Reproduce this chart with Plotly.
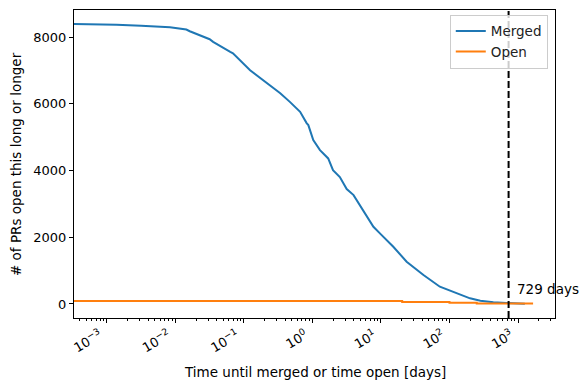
import numpy as np
import plotly.graph_objects as go

# Merged: survival curve (# of PRs open at least this long)
merged_days = [3.31e-4, 1.0e-3, 1.38e-3, 3.16e-3, 8.32e-3, 0.01445, 0.0162, 0.0316, 0.0355,
               0.0631, 0.0692, 0.123, 0.153, 0.240, 0.339, 0.468, 0.661, 0.822, 0.871,
               1.028, 1.288, 1.698, 1.995, 2.512, 3.162, 3.981, 4.898, 6.166, 7.762,
               9.66, 11.48, 15.14, 23.7, 41.7, 72.4, 114.8, 199.5, 281.8, 436.5, 676, 1259]
merged_vals = [8390, 8380, 8365, 8340, 8293, 8224, 8174, 7934, 7854,
               7554, 7514, 7006, 6856, 6557, 6317, 6057, 5758, 5420, 5360,
               4910, 4611, 4362, 4012, 3802, 3443, 3263, 2964, 2614, 2314,
               2117, 1967, 1716, 1267, 868, 518, 368, 170, 100, 50, 30, 10]

# Open: currently open PRs (step curve)
open_days = [3.31e-4, 20.4, 100, 250, 1660]
open_vals = [88, 62, 35, 15, 15]

cutoff_days = 729

x_tickvals = [1e-3, 1e-2, 1e-1, 1e0, 1e1, 1e2, 1e3]
x_ticktext = ["10<sup>\u22123</sup>", "10<sup>\u22122</sup>", "10<sup>\u22121</sup>",
              "10<sup>0</sup>", "10<sup>1</sup>", "10<sup>2</sup>", "10<sup>3</sup>"]
y_tickvals = [0, 2000, 4000, 6000, 8000]

minor_vals = [m * 10.0 ** e for e in range(-4, 4) for m in range(2, 10)]

fig = go.Figure()
fig.add_trace(go.Scatter(x=merged_days, y=merged_vals, mode="lines", name="Merged",
                         line=dict(color="#1f77b4", width=2)))
fig.add_trace(go.Scatter(x=open_days, y=open_vals, mode="lines", name="Open",
                         line=dict(color="#ff7f0e", width=2, shape="hv")))

fig.add_shape(type="line", xref="x", yref="paper", x0=cutoff_days, x1=cutoff_days, y0=0, y1=1,
              line=dict(color="black", width=2, dash="7px,3px"))
fig.add_annotation(x=np.log10(cutoff_days) + 0.09, y=450, xref="x", yref="y",
                   text=f"{cutoff_days} days", showarrow=False, xanchor="left", yanchor="middle",
                   font=dict(size=13.5, color="black"))

L, R, T, B, W, H = 74, 33, 10, 72, 588, 390
pw, ph = W - L - R, H - T - B
fig.add_annotation(x=(16 - L) / pw, y=0.5, xref="paper", yref="paper", textangle=-90,
                   text="# of PRs open this long or longer", showarrow=False,
                   xanchor="center", yanchor="middle", font=dict(size=13.5, color="black"))
fig.add_annotation(x=0.5, y=-(372 - (T + ph)) / ph, xref="paper", yref="paper",
                   text="Time until merged or time open [days]", showarrow=False,
                   xanchor="center", yanchor="middle", font=dict(size=13.5, color="black"))

fig.update_layout(
    width=W, height=H,
    margin=dict(l=L, r=R, t=T, b=B, autoexpand=False),
    plot_bgcolor="white", paper_bgcolor="white",
    font=dict(family="DejaVu Sans", size=13, color="black"),
    showlegend=True,
    legend=dict(x=0.985, y=0.985, xanchor="right", yanchor="top", itemwidth=30,
                bgcolor="rgba(255,255,255,0.8)", bordercolor="#cccccc", borderwidth=1,
                font=dict(family="DejaVu Sans", size=13.5, color="#222")),
)
fig.update_xaxes(type="log", range=[-3.48, 3.54], tickmode="array",
                 tickvals=x_tickvals, ticktext=x_ticktext, automargin=False,
                 showline=True, linecolor="black", linewidth=1, mirror=True,
                 ticks="outside", ticklen=4, tickwidth=1, tickcolor="black",
                 tickangle=-30, ticklabelshift=-7, showgrid=False, zeroline=False,
                 minor=dict(ticks="outside", ticklen=2, tickwidth=0.8, tickcolor="black",
                            tickmode="array", tickvals=minor_vals, showgrid=False),
                 tickfont=dict(size=13))
fig.update_yaxes(range=[-420, 8810], tickmode="array", tickvals=y_tickvals, automargin=False,
                 showline=True, linecolor="black", linewidth=1, mirror=True,
                 ticks="outside", ticklen=4, tickwidth=1, tickcolor="black",
                 showgrid=False, zeroline=False,
                 tickfont=dict(size=13))

fig.write_html("out.html", config={"displayModeBar": False},
               post_script="document.body.style.margin='0';document.body.style.overflow='hidden';")
